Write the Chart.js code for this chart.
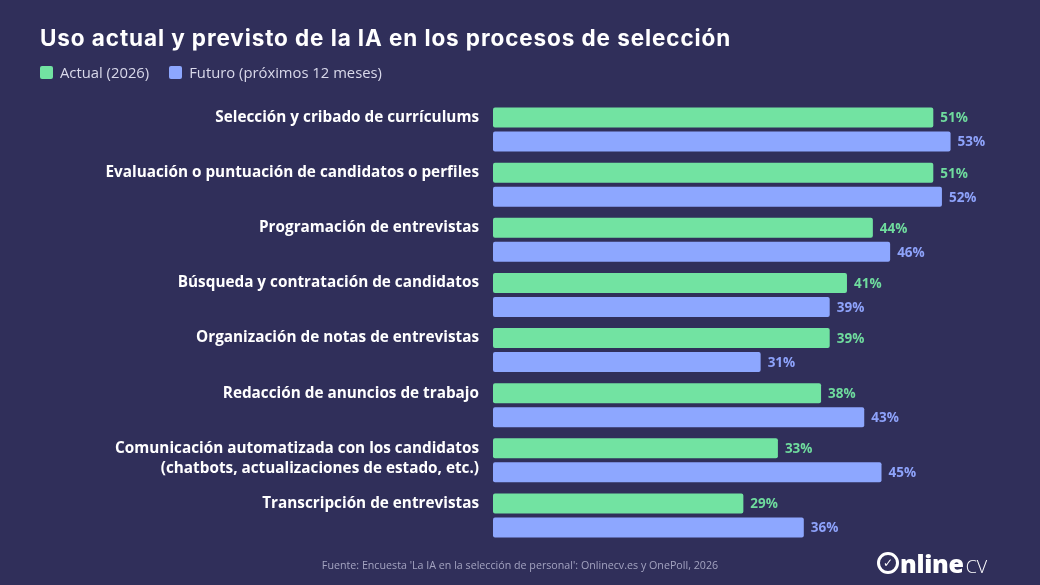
<!DOCTYPE html>
<html lang="es">
<head>
<meta charset="utf-8">
<title>Uso actual y previsto de la IA en los procesos de selección</title>
<script src="https://cdn.jsdelivr.net/npm/chart.js@4.4.1/dist/chart.umd.min.js"></script>
<style>
  html, body { margin: 0; padding: 0; background: #302f5a; }
  #wrap { position: relative; width: 1040px; height: 585px; overflow: hidden; background: #302f5a; }
  #chart { position: absolute; left: 0; top: 0; }
  h1 { position: absolute; left: 40px; top: 24px; margin: 0; font: 700 22.5px Inter, sans-serif; color: #ffffff; letter-spacing: 0.9px; white-space: nowrap; }
  #legend { position: absolute; left: 40px; top: 62px; font: 400 14.8px "Open Sans", sans-serif; color: #d9d9ea; display: flex; }
  .item { display: flex; align-items: center; margin-right: 20px; }
  .box { width: 13px; height: 13px; border-radius: 2px; margin-right: 7px; }
  #source { position: absolute; left: 0; width: 1040px; top: 558px; text-align: center; font: 400 10.7px "Open Sans", sans-serif; color: #a3a3c0; }
  #logo { position: absolute; left: 877px; top: 546px; color: #fff; font-family: "Open Sans", sans-serif; display: flex; align-items: baseline; }
  #logo .ring { width: 16px; height: 16px; border: 3px solid #fff; border-radius: 50%; font: 700 12px "DejaVu Sans", sans-serif; display: inline-flex; align-items: center; justify-content: center; margin-right: 1px; align-self: center; }
  #logo .b { font-weight: 800; font-size: 25px; letter-spacing: -0.3px; }
  #logo .l { font-weight: 300; font-size: 18px; margin-left: 2px; }
</style>
</head>
<body>
<div id="wrap">
  <canvas id="chart" width="1040" height="585"></canvas>
  <h1>Uso actual y previsto de la IA en los procesos de selección</h1>
  <div id="legend"></div>
  <div id="source">Fuente: Encuesta 'La IA en la selección de personal': Onlinecv.es y OnePoll, 2026</div>
  <div id="logo"><span class="ring">✓</span><span class="b">nline</span><span class="l">CV</span></div>
</div>
<script>
// categories (multi-line labels as arrays)
const categories = [
    ["Selección y cribado de currículums"],
    ["Evaluación o puntuación de candidatos o perfiles"],
    ["Programación de entrevistas"],
    ["Búsqueda y contratación de candidatos"],
    ["Organización de notas de entrevistas"],
    ["Redacción de anuncios de trabajo"],
    ["Comunicación automatizada con los candidatos", "(chatbots, actualizaciones de estado, etc.)"],
    ["Transcripción de entrevistas"]
];

const seriesNames = ["Actual (2026)", "Futuro (próximos 12 meses)"];
const actual = [51, 51, 44, 41, 39, 38, 33, 29];
const futuro = [53, 52, 46, 39, 31, 43, 45, 36];

const colors = ["#72e3a2", "#8da7ff"];
const labelColors = ["#6fdc9e", "#8ea3fb"];

// Legend in HTML
let legendDiv = document.getElementById("legend");
seriesNames.forEach((name, i) => {
    legendDiv.innerHTML += `<div class="item"><span class="box" style="background:${colors[i]}"></span>${name}</div>`;
});

// Draw category labels next to the first bar of each group and the value labels
const labelsPlugin = {
    id: "labelsPlugin",
    afterDatasetsDraw(chart) {
        const ctx = chart.ctx;
        ctx.save();
        const first = chart.getDatasetMeta(0);
        ctx.font = "700 15.3px 'Open Sans', sans-serif";
        ctx.fillStyle = "#ffffff";
        ctx.textAlign = "right";
        ctx.textBaseline = "middle";
        first.data.forEach((bar, i) => {
            categories[i].forEach((line, k) => {
                ctx.fillText(line, 479, bar.y + k * 20);
            });
        });

        ctx.font = "700 13.5px 'Open Sans', sans-serif";
        ctx.textAlign = "left";
        chart.data.datasets.forEach((ds, d) => {
            const meta = chart.getDatasetMeta(d);
            ctx.fillStyle = labelColors[d];
            meta.data.forEach((bar, i) => {
                ctx.fillText(ds.data[i] + "%", bar.x + 7, bar.y + 1);
            });
        });
        ctx.restore();
    }
};

new Chart(document.getElementById("chart"), {
    type: "bar",
    data: {
        labels: categories,
        datasets: [
            { label: seriesNames[0], data: actual, backgroundColor: colors[0] },
            { label: seriesNames[1], data: futuro, backgroundColor: colors[1] }
        ]
    },
    options: {
        indexAxis: "y",
        responsive: false,
        animation: false,
        events: [],
        datasets: {
            bar: { categoryPercentage: 0.87, barPercentage: 0.83, borderRadius: 2, borderSkipped: false }
        },
        layout: { padding: { left: 40, right: 29, top: 102, bottom: 42 } },
        scales: {
            x: { display: false, min: 0, max: 60 },
            y: {
                grid: { display: false },
                border: { display: false },
                ticks: { display: false },
                afterFit(scale) { scale.width = 453; }
            }
        },
        plugins: {
            legend: { display: false },
            tooltip: { enabled: false }
        }
    },
    plugins: [labelsPlugin]
});
</script>
</body>
</html>
